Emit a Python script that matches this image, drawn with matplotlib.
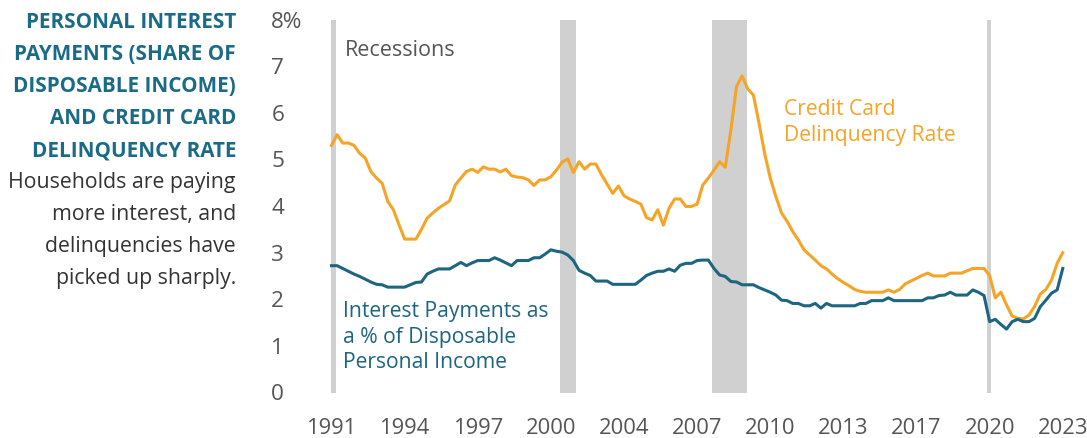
import numpy as np
import matplotlib
matplotlib.use("Agg")
import matplotlib.pyplot as plt

plt.rcParams['font.family'] = ['Open Sans', 'DejaVu Sans']

# quarterly, 1991Q1 .. 2023Q3
card_delinq = [
    5.30, 5.53, 5.35, 5.35, 5.30, 5.13, 5.03, 4.74, 4.60, 4.49,
    4.10, 3.92, 3.60, 3.29, 3.29, 3.29, 3.50, 3.74, 3.85, 3.95,
    4.03, 4.11, 4.45, 4.60, 4.74, 4.79, 4.72, 4.84, 4.79, 4.79,
    4.73, 4.79, 4.65, 4.62, 4.61, 4.56, 4.44, 4.56, 4.56, 4.63,
    4.77, 4.94, 5.01, 4.72, 4.95, 4.79, 4.90, 4.90, 4.67, 4.47,
    4.27, 4.43, 4.22, 4.15, 4.10, 4.04, 3.75, 3.70, 3.92, 3.59,
    3.95, 4.15, 4.15, 3.99, 3.99, 4.04, 4.45, 4.60, 4.77, 4.95,
    4.83, 5.63, 6.56, 6.79, 6.51, 6.38, 5.78, 5.13, 4.60, 4.20,
    3.85, 3.67, 3.45, 3.27, 3.06, 2.95, 2.84, 2.72, 2.65, 2.54,
    2.44, 2.36, 2.29, 2.21, 2.17, 2.15, 2.15, 2.15, 2.15, 2.20,
    2.15, 2.21, 2.33, 2.39, 2.45, 2.51, 2.56, 2.50, 2.50, 2.50,
    2.56, 2.56, 2.56, 2.61, 2.66, 2.66, 2.66, 2.51, 2.03, 2.15,
    1.88, 1.64, 1.59, 1.58, 1.66, 1.85, 2.11, 2.21, 2.41, 2.77,
    3.00,
]
interest_pay = [
    2.72, 2.72, 2.66, 2.60, 2.54, 2.49, 2.43, 2.37, 2.32, 2.31,
    2.26, 2.26, 2.26, 2.26, 2.31, 2.36, 2.37, 2.54, 2.60, 2.65,
    2.65, 2.65, 2.72, 2.79, 2.72, 2.78, 2.83, 2.83, 2.83, 2.89,
    2.84, 2.78, 2.72, 2.83, 2.83, 2.83, 2.89, 2.89, 2.97, 3.06,
    3.03, 3.01, 2.95, 2.83, 2.62, 2.56, 2.51, 2.39, 2.39, 2.39,
    2.32, 2.32, 2.32, 2.32, 2.32, 2.41, 2.51, 2.56, 2.60, 2.60,
    2.65, 2.60, 2.73, 2.77, 2.77, 2.83, 2.84, 2.84, 2.66, 2.52,
    2.49, 2.38, 2.37, 2.31, 2.31, 2.31, 2.25, 2.20, 2.15, 2.09,
    1.98, 1.97, 1.91, 1.91, 1.86, 1.86, 1.91, 1.81, 1.91, 1.86,
    1.86, 1.86, 1.86, 1.86, 1.91, 1.91, 1.97, 1.97, 1.97, 2.03,
    1.97, 1.97, 1.97, 1.97, 1.97, 1.97, 2.03, 2.03, 2.08, 2.09,
    2.15, 2.09, 2.09, 2.09, 2.20, 2.15, 2.08, 1.52, 1.57, 1.46,
    1.36, 1.52, 1.57, 1.52, 1.52, 1.59, 1.84, 1.98, 2.13, 2.20,
    2.66,
]
recessions = [(1991.0, 1991.2), (2001.17, 2001.87), (2007.92, 2009.46), (2020.12, 2020.33)]
tick_labels = ["1991", "1994", "1997", "2000", "2004", "2007", "2010", "2013", "2017", "2020", "2023"]
y_ticks = [0, 1, 2, 3, 4, 5, 6, 7, 8]

years = 1991 + np.arange(len(card_delinq)) / 4

W, H = 1087, 438
ORANGE = '#f5a425'
TEAL = '#1d6580'
TITLE = '#1a6b87'
GREY = '#555555'

fig = plt.figure(figsize=(W / 100, H / 100), dpi=100)
ax = fig.add_axes([329 / W, (H - 392.5) / H, (1066 - 329) / W, (392.5 - 19.5) / H])

for a, b in recessions:
    ax.axvspan(a, b, color='#d0d0d0', lw=0, zorder=0)

ax.plot(years, card_delinq, color=ORANGE, lw=2.2, zorder=3)
ax.plot(years, interest_pay, color=TEAL, lw=2.2, zorder=3)

ax.set_xlim(1990.889, 2023.644)
ax.set_ylim(0, 8)
ax.set_xticks(1991 + 3.25 * np.arange(len(tick_labels)))
ax.set_xticklabels(tick_labels)
ax.set_yticks(y_ticks)
ax.set_yticklabels([f"{v}%" if v == 8 else str(v) for v in y_ticks])
for lab in ax.get_yticklabels():
    lab.set_horizontalalignment('left')
ax.tick_params(axis='x', length=0, pad=18, labelsize=15.8, labelcolor=GREY)
ax.tick_params(axis='y', length=0, pad=41.5, labelsize=16.2, labelcolor=GREY)
for s in ax.spines.values():
    s.set_visible(False)


def ftext(x, y, s, **kw):
    fig.text(x / W, 1 - y / H, s, va='baseline', **kw)


ftext(345, 56.5, "Recessions", color=GREY, fontsize=15.5)
for k, line in enumerate(["Interest Payments as", "a % of Disposable", "Personal Income"]):
    ftext(343, 316.7 + 25.8 * k, line, color=TEAL, fontsize=15.2)
for k, line in enumerate(["Credit Card", "Delinquency Rate"]):
    ftext(784, 115 + 25.8 * k, line, color=ORANGE, fontsize=15.2)

title_lines = ["PERSONAL INTEREST", "PAYMENTS (SHARE OF", "DISPOSABLE INCOME)",
               "AND CREDIT CARD", "DELINQUENCY RATE"]
body_lines = ["Households are paying", "more interest, and",
              "delinquencies have", "picked up sharply."]
for k, line in enumerate(title_lines):
    ftext(236, 28 + 32 * k, line, ha='right', color=TITLE, fontsize=14.9, fontweight='bold')
for k, line in enumerate(body_lines):
    ftext(236, 188 + 32 * k, line, ha='right', color='#333333', fontsize=15.3)

fig.savefig("out.png", dpi=100)
